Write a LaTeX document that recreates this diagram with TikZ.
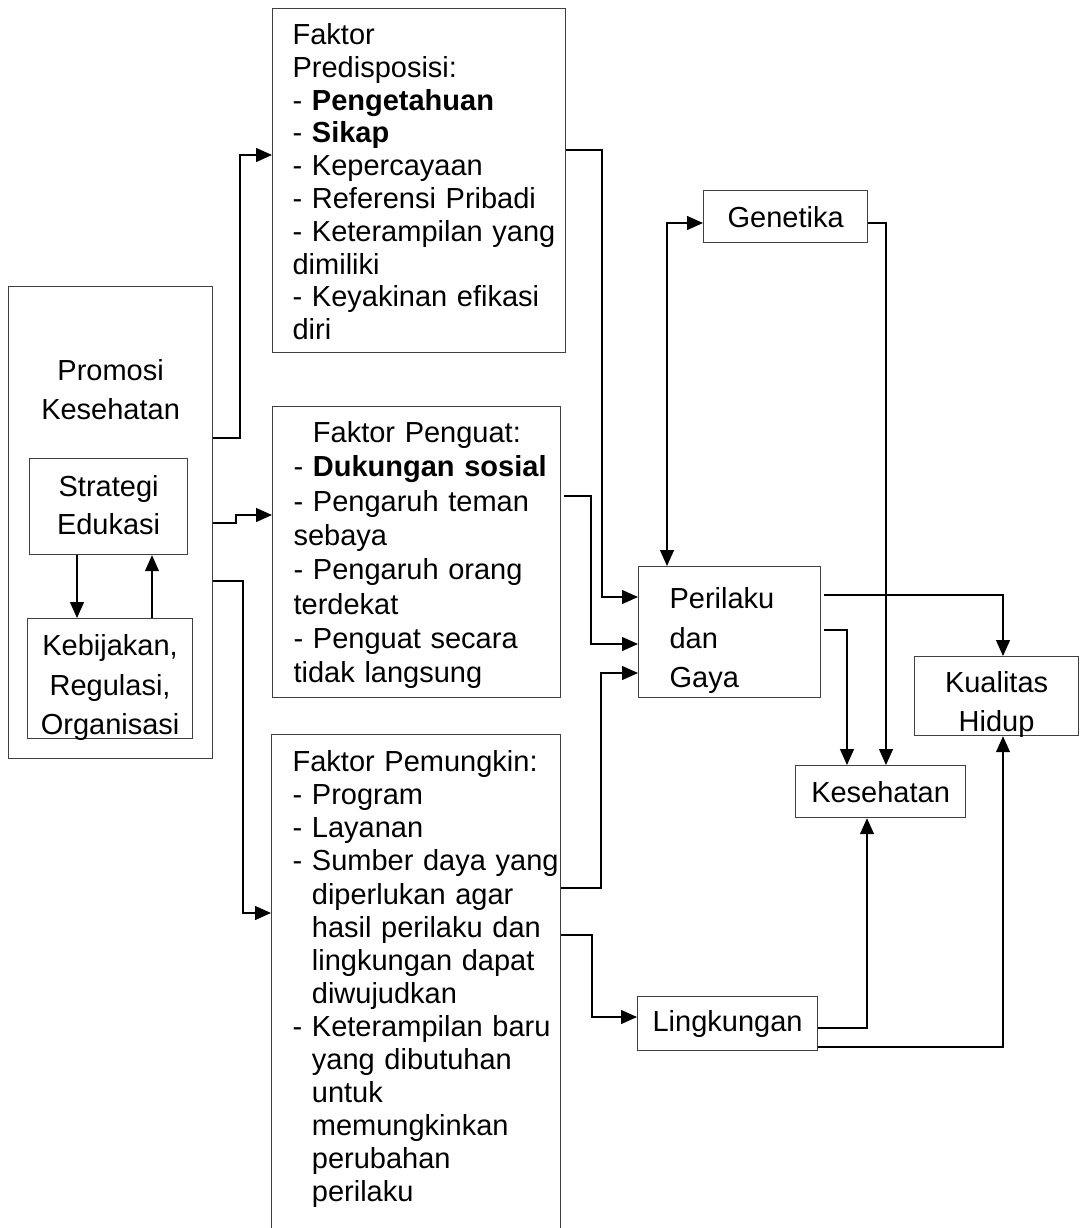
\documentclass[tikz,border=0pt]{standalone}
\usepackage{fontspec}
\setmainfont{Liberation Sans}
\usetikzlibrary{arrows.meta}
\newcommand{\indt}{\phantom{- }}
\tikzset{
  box/.style={draw=black!75, line width=1.2pt, inner sep=0pt, anchor=north west,
    align=center, font=\fontsize{29}{39}\selectfont},
  listbox/.style={box, align=left, font=\fontsize{29}{33}\selectfont},
  arr/.style={->, line width=1.3pt}
}

\begin{document}
\begin{tikzpicture}[x=1pt, y=-1pt, >={Triangle[length=16pt,width=14pt]}]
            \useasboundingbox (0,0) rectangle (1086,1228);
            \clip (0,0) rectangle (1086,1228);
            % left block
            \node[box, text width=204pt, text height=94pt, text depth=378pt] (promo) at (8,286) {Promosi\\Kesehatan};
            \node[box, text width=158pt, text height=38pt, text depth=58pt, font=\fontsize{29}{38}\selectfont] (strat) at (29,458) {Strategi\\Edukasi};
            \node[box, text width=165pt, text height=37pt, text depth=83pt, font=\fontsize{29}{39.5}\selectfont] (kebij) at (27,618) {Kebijakan,\\Regulasi,\\Organisasi};
            % faktor boxes
            \node[listbox, text width=293pt, text height=36pt, text depth=308pt, font=\fontsize{29}{32.8}\selectfont,
              execute at begin node={\leftskip=20pt}] (pred) at (272,8)
              {Faktor\\Predisposisi:\\- \textbf{Pengetahuan}\\- \textbf{Sikap}\\- Kepercayaan\\- Referensi Pribadi\\- Keterampilan yang\\dimiliki\\- Keyakinan efikasi\\diri};
            \node[listbox, text width=288pt, text height=36pt, text depth=255pt, font=\fontsize{29}{34.3}\selectfont,
              execute at begin node={\leftskip=21pt}] (peng) at (272,406)
              {\indt Faktor Penguat:\\- \textbf{Dukungan sosial}\\- Pengaruh teman\\sebaya\\- Pengaruh orang\\terdekat\\- Penguat secara\\tidak langsung};
            \node[listbox, text width=289pt, text height=37pt, text depth=600pt, font=\fontsize{29}{33.1}\selectfont,
              execute at begin node={\leftskip=21pt}] (pem) at (271,734)
              {Faktor Pemungkin:\\- Program\\- Layanan\\- Sumber daya yang\\\indt diperlukan agar\\\indt hasil perilaku dan\\\indt lingkungan dapat\\\indt diwujudkan\\- Keterampilan baru\\\indt yang dibutuhan\\\indt untuk\\\indt memungkinkan\\\indt perubahan\\\indt perilaku};
            % right block
            \node[box, text width=182pt, text height=42pt, text depth=89pt, align=left, font=\fontsize{29}{39.5}\selectfont,
              execute at begin node={\leftskip=31pt}] (peri) at (638,566) {Perilaku\\dan\\Gaya};
            \node[box, text width=164pt, text height=37pt, text depth=15pt] (gen) at (703,190) {Genetika};
            \node[box, text width=164pt, text height=36pt, text depth=43pt] (kual) at (914,656) {Kualitas\\Hidup};
            \node[box, text width=170pt, text height=37pt, text depth=15pt] (kes) at (795,765) {Kesehatan};
            \node[box, text width=180pt, text height=35pt, text depth=19pt] (ling) at (637,996) {Lingkungan};
            % connectors
            \draw[arr] (promo.east |- 0,438) -| (240,155) -- (pred.west |- 0,155);
            \draw[arr] (promo.east |- 0,523) -| (236,515) -- (peng.west |- 0,515);
            \draw[arr] (promo.east |- 0,581) -| (243,913) -- (pem.west |- 0,913);
            \draw[arr] (strat.south -| 77,0) -- (kebij.north -| 77,0);
            \draw[arr] (kebij.north -| 152,0) -- (strat.south -| 152,0);
            \draw[arr] (pred.east |- 0,150) -| (602,597) -- (peri.west |- 0,597);
            \draw[arr] ([xshift=3pt]peng.east |- 0,496) -| (591,644) -- (peri.west |- 0,644);
            \draw[arr] (pem.east |- 0,888) -| (601,673) -- (peri.west |- 0,673);
            \draw[arr] (pem.east |- 0,935) -| (592,1017) -- (ling.west |- 0,1017);
            \draw[<->, line width=1.3pt] (peri.north -| 667,0) |- (gen.west |- 0,223);
            \draw[arr] (gen.east |- 0,223) -| (kes.north -| 886,0);
            \draw[arr] ([xshift=3pt]peri.east |- 0,595) -| (kual.north -| 1003,0);
            \draw[arr] ([xshift=3pt]peri.east |- 0,630) -| (kes.north -| 847,0);
            \draw[arr] (ling.east |- 0,1028) -| (kes.south -| 867,0);
            \draw[arr] (ling.east |- 0,1047) -| (kual.south -| 1003,0);
\end{tikzpicture}
\end{document}
